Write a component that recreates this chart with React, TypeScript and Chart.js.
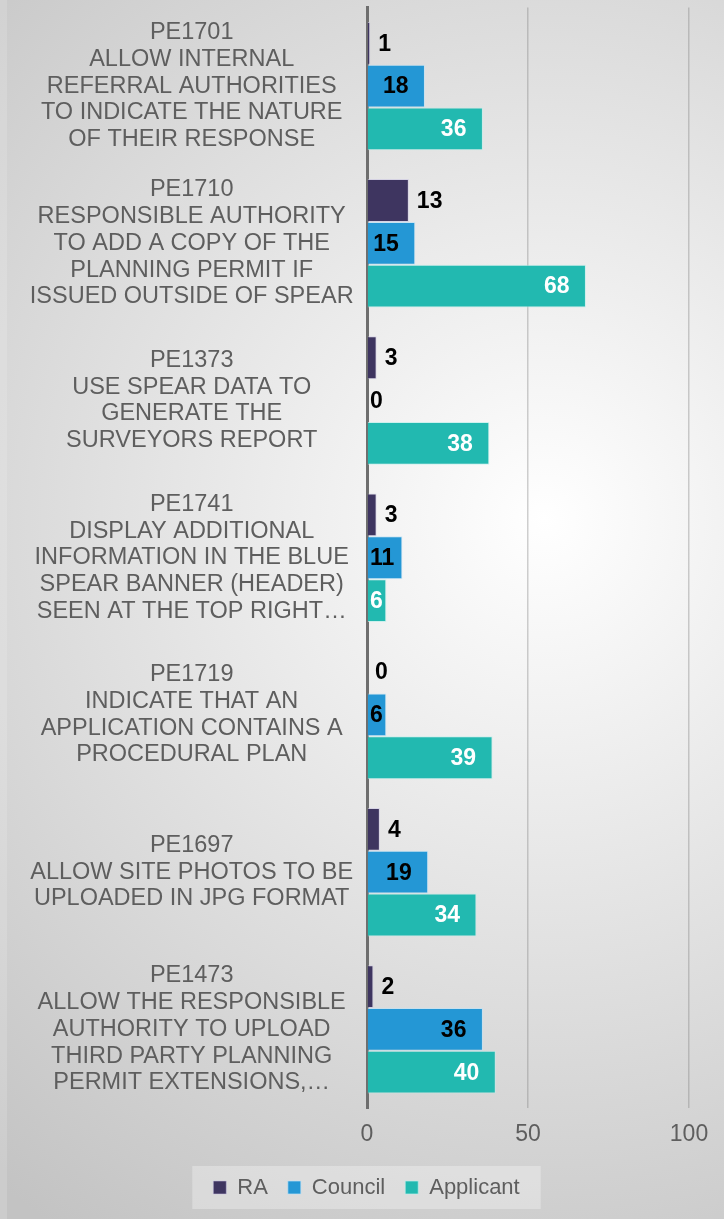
import React, { useEffect, useRef } from "react";
import { Chart, registerables } from "chart.js";

Chart.register(...registerables);

const categories: string[][] = [
  ["PE1701", "ALLOW INTERNAL", "REFERRAL AUTHORITIES", "TO INDICATE THE NATURE", "OF THEIR RESPONSE"],
  ["PE1710", "RESPONSIBLE AUTHORITY", "TO ADD A COPY OF THE", "PLANNING PERMIT IF", "ISSUED OUTSIDE OF SPEAR"],
  ["PE1373", "USE SPEAR DATA TO", "GENERATE THE", "SURVEYORS REPORT"],
  ["PE1741", "DISPLAY ADDITIONAL", "INFORMATION IN THE BLUE", "SPEAR BANNER (HEADER)", "SEEN AT THE TOP RIGHT…"],
  ["PE1719", "INDICATE THAT AN", "APPLICATION CONTAINS A", "PROCEDURAL PLAN"],
  ["PE1697", "ALLOW SITE PHOTOS TO BE", "UPLOADED IN JPG FORMAT"],
  ["PE1473", "ALLOW THE RESPONSIBLE", "AUTHORITY TO UPLOAD", "THIRD PARTY PLANNING", "PERMIT EXTENSIONS,…"],
];

const seriesNames = ["RA", "Council", "Applicant"];
const raValues = [1, 13, 3, 3, 0, 4, 2];
const councilValues = [18, 15, 0, 11, 6, 19, 36];
const applicantValues = [36, 68, 38, 6, 39, 34, 40];
const xTickValues = [0, 50, 100];

const seriesColors = ["#3e3560", "#2497d5", "#22b9b0"];
const seriesBorders = ["rgba(200,195,225,0.55)", "rgba(190,225,245,0.7)", "rgba(190,240,235,0.7)"];

const FONT = '"Liberation Sans", Arial, sans-serif';
const TEXT_GRAY = "#5e5e5e";
const CAT_FONT_SIZE = 23.5;
const PAD_LEFT = 9;
const AXIS_X = 367; // chart area left
const LABEL_CENTER_X = 191.7;
const LEGEND_SHIFT = 17.5;

const backgroundPlugin = {
  id: "bgPlugin",
  beforeDraw(chart: any) {
    const { ctx, width, height } = chart;
    ctx.save();
    const g = ctx.createRadialGradient(545, 520, 0, 545, 520, 860);
    g.addColorStop(0, "#ffffff");
    g.addColorStop(1, "#c3c3c3");
    ctx.fillStyle = g;
    ctx.fillRect(0, 0, width, height);
    ctx.fillStyle = "rgba(255,255,255,0.15)";
    ctx.fillRect(0, 0, 7, height);
    // legend background
    const legend = chart.legend;
    if (legend && legend.legendHitBoxes && legend.legendHitBoxes.length) {
      let l = Infinity;
      let r = -Infinity;
      legend.legendHitBoxes.forEach((hb: any) => {
        l = Math.min(l, hb.left);
        r = Math.max(r, hb.left + hb.width);
      });
      const half = (r - l) / 2 + 21;
      const cx = (legend.left + legend.right) / 2;
      const cy = legend.legendHitBoxes[0].top + legend.legendHitBoxes[0].height / 2;
      ctx.fillStyle = "rgba(255,255,255,0.3)";
      ctx.fillRect(cx - half, cy - 21.5, half * 2, 43);
    }
    ctx.restore();
  },
};

const legendShiftPlugin = {
  id: "legendShift",
  afterLayout(chart: any) {
    const lg = chart.legend;
    if (lg) {
      lg.left += LEGEND_SHIFT;
      lg.right += LEGEND_SHIFT;
    }
  },
};

const valueLabelPlugin = {
  id: "valueLabels",
  afterDatasetsDraw(chart: any) {
    const ctx = chart.ctx;
    const base = chart.scales.x.getPixelForValue(0);
    ctx.save();
    ctx.font = `bold 23px ${FONT}`;
    ctx.textBaseline = "middle";
    chart.data.datasets.forEach((ds: any, di: number) => {
      const meta = chart.getDatasetMeta(di);
      meta.data.forEach((bar: any, i: number) => {
        const text = String(ds.data[i]);
        const w = ctx.measureText(text).width;
        if (di === 0) {
          ctx.fillStyle = "#000000";
          ctx.textAlign = "left";
          ctx.fillText(text, bar.x + 8, bar.y + 1);
        } else {
          ctx.fillStyle = di === 1 ? "#000000" : "#ffffff";
          ctx.textAlign = "right";
          const x = Math.max(bar.x - 16.5, base + 3 + w);
          ctx.fillText(text, x, bar.y + 1);
        }
      });
    });
    ctx.restore();
  },
};

export default function App() {
  const canvasRef = useRef<HTMLCanvasElement | null>(null);

  useEffect(() => {
    document.body.style.margin = "0";
    const canvas = canvasRef.current;
    if (!canvas) return;

    // measure widest category line for centered labels
    const mctx = document.createElement("canvas").getContext("2d")!;
    mctx.font = `${CAT_FONT_SIZE}px ${FONT}`;
    let widest = 0;
    categories.forEach((lines) =>
      lines.forEach((s) => {
        widest = Math.max(widest, mctx.measureText(s).width);
      })
    );
    const yPad = Math.max(0, AXIS_X - LABEL_CENTER_X - widest / 2);

    const chart = new Chart(canvas, {
      type: "bar",
      data: {
        labels: categories,
        datasets: [
          { label: seriesNames[0], data: raValues, backgroundColor: seriesColors[0], borderColor: seriesBorders[0], borderWidth: 1 },
          { label: seriesNames[1], data: councilValues, backgroundColor: seriesColors[1], borderColor: seriesBorders[1], borderWidth: 1 },
          { label: seriesNames[2], data: applicantValues, backgroundColor: seriesColors[2], borderColor: seriesBorders[2], borderWidth: 1 },
        ],
      },
      options: {
        indexAxis: "y",
        responsive: false,
        maintainAspectRatio: false,
        animation: false,
        devicePixelRatio: 1,
        datasets: {
          bar: { categoryPercentage: 0.817, barPercentage: 1.0 },
        },
        layout: { padding: { top: 7.5, bottom: 19.5, left: PAD_LEFT, right: 35 } },
        plugins: {
          tooltip: { enabled: false },
          legend: {
            position: "bottom",
            maxHeight: 43,
            labels: {
              boxWidth: 13,
              boxHeight: 13,
              padding: 20,
              color: TEXT_GRAY,
              font: { size: 22, family: FONT },
            },
          },
        },
        scales: {
          x: {
            type: "linear",
            min: 0,
            max: 100,
            afterBuildTicks: (scale: any) => {
              scale.ticks = xTickValues.map((v) => ({ value: v }));
            },
            afterFit: (scale: any) => {
              scale.height = 48.5;
            },
            ticks: {
              color: TEXT_GRAY,
              padding: 13,
              font: { size: 23, family: FONT },
            },
            grid: {
              drawTicks: false,
              lineWidth: 1.5,
              color: (ctx: any) => (ctx.tick && ctx.tick.value === 0 ? "rgba(0,0,0,0)" : "rgba(128,128,128,0.38)"),
            },
            border: { display: false },
          },
          y: {
            type: "category",
            z: 1,
            afterFit: (scale: any) => {
              scale.width = AXIS_X - PAD_LEFT;
              scale.paddingTop = 0;
              scale.paddingBottom = 0;
            },
            ticks: {
              crossAlign: "center",
              padding: yPad,
              color: TEXT_GRAY,
              autoSkip: false,
              font: { size: CAT_FONT_SIZE, family: FONT, lineHeight: "26.7px" },
            },
            grid: { display: false, drawTicks: false },
            border: { display: true, color: "#6e6e6e", width: 3 },
          },
        },
      },
      plugins: [backgroundPlugin, legendShiftPlugin, valueLabelPlugin],
    } as any);

    return () => chart.destroy();
  }, []);

  return (
    <div style={{ width: 724, height: 1219 }}>
      <canvas ref={canvasRef} width={724} height={1219} style={{ display: "block" }} />
    </div>
  );
}
